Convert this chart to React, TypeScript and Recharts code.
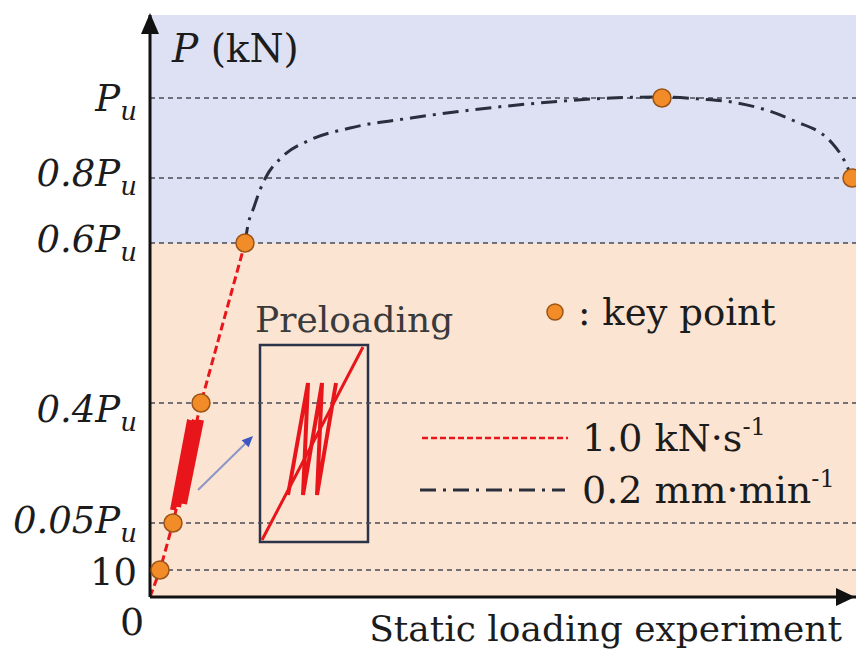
import {
  ComposedChart,
  XAxis,
  YAxis,
  Line,
  Scatter,
  ReferenceArea,
  ReferenceLine,
  ReferenceDot,
} from "recharts";

// schematic plot units: x = loading progress, y = load level position
const X_MAX = 706;
const Y_MAX = 582;

const levelValues = [0, 27, 74, 194, 354, 419, 499];
const levelLabels = ["0", "10", "0.05Pu", "0.4Pu", "0.6Pu", "0.8Pu", "Pu"];
const gridLevels = [27, 74, 194, 354, 419, 499];
const zoneSplit = 354; // 0.6Pu, force control below / displacement control above

// key points
const keyX = [10, 23, 51, 95, 512, 702];
const keyY = [27, 74, 194, 354, 499, 419];

// force-controlled branch (1.0 kN/s)
const forceX = [0, 10, 23, 51, 95];
const forceY = [0, 27, 74, 194, 354];

// preloading cycles on the main curve
const preloadX = [23, 40, 28, 45, 34, 51];
const preloadY = [87, 177, 90, 177, 93, 177];

// displacement-controlled branch (0.2 mm/min)
const dispX = [95, 98, 104, 110, 116, 132, 160, 200, 261, 321, 401, 461, 512, 550, 582, 642, 682, 694, 702];
const dispY = [354, 372, 390, 407, 420, 440, 457, 469, 479, 487, 495, 499, 500, 498, 495, 477, 454, 437, 419];

// enlarged preloading view
const insetBoxX = [110, 218];
const insetBoxY = [55, 252];
const insetDiagX = [112, 213];
const insetDiagY = [57, 250];
const insetZigX = [138, 158, 153, 172, 167, 186];
const insetZigY = [102, 214, 102, 214, 102, 214];

const zip = (xs: number[], ys: number[]) => xs.map((x, i) => ({ x, y: ys[i] }));

const FONT = "DejaVu Serif";
const INK = "#1c1c1c";
const RED = "#e8161b";
const DARK = "#2b2f3d";

const labelDy: Record<string, number> = {
  "10": 15,
  "0.05Pu": 10,
  "0.4Pu": 19,
  "0.6Pu": 9,
  "0.8Pu": 8,
  Pu: 13,
};

function YTick(props: any) {
  const { x, y, payload } = props;
  const label = levelLabels[levelValues.indexOf(payload.value)];
  if (label === undefined) return null;
  if (label === "0") {
    return (
      <text x={x - 5} y={y + 38} textAnchor="middle" fontFamily={FONT} fontSize={38} fill={INK}>
        0
      </text>
    );
  }
  const isPu = label.endsWith("Pu");
  return (
    <text
      x={x}
      y={y + (labelDy[label] ?? 10)}
      textAnchor="end"
      fontFamily={FONT}
      fontSize={37}
      fontStyle={isPu ? "italic" : "normal"}
      fill={INK}
    >
      {isPu ? (
        <>
          {label.slice(0, -1)}
          <tspan fontSize={26} dy={9}>u</tspan>
        </>
      ) : (
        label
      )}
    </text>
  );
}

const textShape = (content: any, anchor: string = "start", size = 40, fill = INK) => (p: any) => (
  <text x={p.cx} y={p.cy} textAnchor={anchor} fontFamily={FONT} fontSize={size} fill={fill}>
    {content}
  </text>
);

const BlueArrow = (p: any) => {
  const { x1, y1, x2, y2 } = p;
  const a = Math.atan2(y2 - y1, x2 - x1);
  const L = 11;
  const W = 5;
  const bx = x2 - L * Math.cos(a);
  const by = y2 - L * Math.sin(a);
  const px = -Math.sin(a) * W;
  const py = Math.cos(a) * W;
  return (
    <g>
      <line x1={x1} y1={y1} x2={bx} y2={by} stroke="#8c95c8" strokeWidth={2} />
      <polygon points={`${x2},${y2} ${bx + px},${by + py} ${bx - px},${by - py}`} fill="#3d57c2" />
    </g>
  );
};

const keyDot = (p: any) => (
  <circle cx={p.cx} cy={p.cy} r={9} fill="#f28c28" stroke="#9c5416" strokeWidth={1.5} />
);

export default function App() {
  return (
    <div style={{ position: "absolute", left: 0, top: 0, width: 859, height: 655, background: "#fff" }}>
      <ComposedChart width={859} height={655} margin={{ top: 15, right: 3, bottom: 0, left: 0 }}>
        <XAxis
          type="number"
          dataKey="x"
          domain={[0, X_MAX]}
          height={58}
          tick={false}
          tickLine={false}
          axisLine={{ stroke: "#111", strokeWidth: 3 }}
          allowDataOverflow
        />
        <YAxis
          type="number"
          dataKey="y"
          domain={[0, Y_MAX]}
          ticks={levelValues}
          interval={0}
          width={150}
          tickLine={false}
          tickSize={0}
          tickMargin={13}
          axisLine={{ stroke: "#111", strokeWidth: 3 }}
          tick={(p: any) => <YTick {...p} />}
          allowDataOverflow
        />

        <ReferenceArea x1={0} x2={X_MAX} y1={0} y2={zoneSplit} fill="#fce4d3" fillOpacity={1} stroke="none" />
        <ReferenceArea x1={0} x2={X_MAX} y1={zoneSplit} y2={Y_MAX} fill="#dde1f3" fillOpacity={1} stroke="none" />

        {gridLevels.map((v) => (
          <ReferenceLine key={v} y={v} stroke="#474a55" strokeWidth={1.6} strokeDasharray="5 4" />
        ))}

        <ReferenceArea
          x1={insetBoxX[0]}
          x2={insetBoxX[1]}
          y1={insetBoxY[0]}
          y2={insetBoxY[1]}
          fill="none"
          stroke="#2b3348"
          strokeWidth={2.5}
        />

        <Line data={zip(forceX, forceY)} dataKey="y" type="linear" stroke={RED} strokeWidth={3} strokeDasharray="8 4" dot={false} isAnimationActive={false} />
        <Line data={zip(preloadX, preloadY)} dataKey="y" type="linear" stroke={RED} strokeWidth={6} strokeLinejoin="miter" dot={false} isAnimationActive={false} />
        <Line data={zip(dispX, dispY)} dataKey="y" type="monotone" stroke={DARK} strokeWidth={3} strokeDasharray="16 7 3 7" dot={false} isAnimationActive={false} />
        <Line data={zip(insetDiagX, insetDiagY)} dataKey="y" type="linear" stroke={RED} strokeWidth={3} dot={false} isAnimationActive={false} />
        <Line data={zip(insetZigX, insetZigY)} dataKey="y" type="linear" stroke={RED} strokeWidth={4} dot={false} isAnimationActive={false} />

        <ReferenceLine segment={[{ x: 48, y: 107 }, { x: 103, y: 161 }]} shape={BlueArrow} />

        <Scatter data={zip(keyX, keyY)} dataKey="y" shape={keyDot} isAnimationActive={false} />

        {/* axis arrows */}
        <ReferenceDot
          x={0}
          y={Y_MAX}
          ifOverflow="visible"
          shape={(p: any) => (
            <polygon points={`${p.cx},${p.cy - 2} ${p.cx - 9},${p.cy + 19} ${p.cx + 9},${p.cy + 19}`} fill="#111" />
          )}
        />
        <ReferenceDot
          x={X_MAX}
          y={0}
          ifOverflow="visible"
          shape={(p: any) => (
            <polygon points={`${p.cx - 1},${p.cy} ${p.cx - 20},${p.cy - 9} ${p.cx - 20},${p.cy + 9}`} fill="#111" />
          )}
        />

        {/* axis titles */}
        <ReferenceDot
          x={22}
          y={535}
          ifOverflow="visible"
          shape={textShape(
            <>
              <tspan fontStyle="italic">P</tspan> (kN)
            </>,
            "start",
            39
          )}
        />
        <ReferenceDot x={692} y={-44} ifOverflow="visible" shape={textShape("Static loading experiment", "end", 36)} />

        {/* annotations & legend */}
        <ReferenceDot x={105} y={265} ifOverflow="visible" shape={textShape("Preloading", "start", 36, "#3a3a3a")} />
        <ReferenceDot x={405} y={285} ifOverflow="visible" shape={(p: any) => <circle cx={p.cx} cy={p.cy} r={8} fill="#f28c28" stroke="#9c5416" strokeWidth={1.5} />} />
        <ReferenceDot x={428} y={272} ifOverflow="visible" shape={textShape(": key point", "start", 37)} />

        <ReferenceLine segment={[{ x: 272, y: 159 }, { x: 418, y: 159 }]} stroke={RED} strokeWidth={2.5} strokeDasharray="6 3" />
        <ReferenceLine segment={[{ x: 270, y: 107 }, { x: 415, y: 107 }]} stroke={DARK} strokeWidth={3} strokeDasharray="16 7 3 7" />
        <ReferenceDot
          x={432}
          y={146}
          ifOverflow="visible"
          shape={textShape(
            <>
              1.0 kN·s<tspan fontSize={24} dy={-16}>-1</tspan>
            </>,
            "start",
            38
          )}
        />
        <ReferenceDot
          x={432}
          y={94}
          ifOverflow="visible"
          shape={textShape(
            <>
              0.2 mm·min<tspan fontSize={24} dy={-16}>-1</tspan>
            </>,
            "start",
            38
          )}
        />
      </ComposedChart>
    </div>
  );
}
